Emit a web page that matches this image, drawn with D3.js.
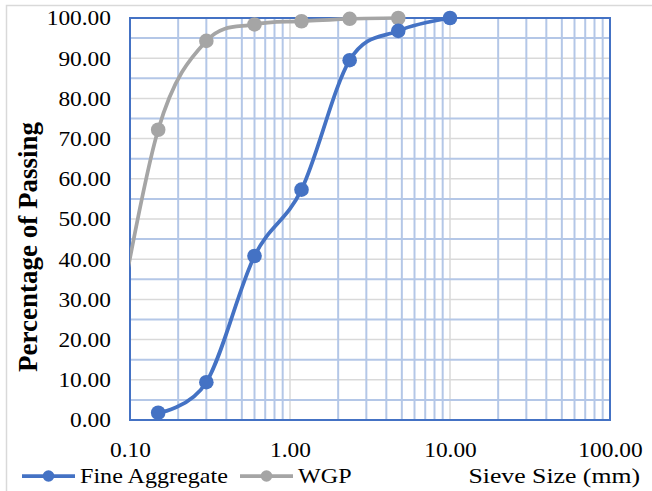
<!DOCTYPE html>
<html><head><meta charset="utf-8">
<script src="https://cdn.jsdelivr.net/npm/d3@7"></script>
<style>body{margin:0;background:#fff}svg{display:block}</style>
</head><body><svg id="c" width="652" height="491"></svg>
<script>
// ---- data ----
const sieveFA = [0.15, 0.3, 0.6, 1.18, 2.36, 4.75, 10];
const passFA  = [1.8, 9.4, 40.8, 57.3, 89.5, 96.8, 100];
const sieveWGP = [0.075, 0.15, 0.3, 0.6, 1.18, 2.36, 4.75];
const passWGP  = [13.5, 72.2, 94.3, 98.4, 99.2, 99.8, 100];
const seriesNames = ["Fine Aggregate", "WGP"];
const xTicks = [0.1, 1, 10, 100];
const yTicks = [0, 10, 20, 30, 40, 50, 60, 70, 80, 90, 100];
const xTitle = "Sieve Size (mm)";
const yTitle = "Percentage of Passing";

// ---- layout ----
const svg = d3.select("#c");
const L = 130, R = 610, T = 18, B = 420;
const SX = 1.17; // horizontal text stretch
const font = "'Liberation Serif','Times New Roman',serif";
const colFA = "#4472c4", colWGP = "#a5a5a5";

const x = d3.scaleLog().domain([0.1, 100]).range([L, R]);
const y = d3.scaleLinear().domain([0, 100]).range([B, T]);

svg.append("rect").attr("x", 6.5).attr("y", 5.5).attr("width", 700).attr("height", 500)
  .attr("fill", "#fff").attr("stroke", "#d9d9d9").attr("stroke-width", 1.5);

// gridlines
const minorX = [], majorX = [];
[0.1, 1, 10].forEach(d => { for (let k = 2; k <= 9; k++) minorX.push(d * k); });
[1, 10].forEach(d => majorX.push(d));
const minorY = d3.range(5, 100, 10);
const majorY = yTicks.filter(v => v > 0 && v < 100);

const g = svg.append("g");
g.selectAll(".gmy").data(majorY).join("line")
  .attr("x1", L).attr("x2", R).attr("y1", d => y(d)).attr("y2", d => y(d))
  .attr("stroke", "#d9d9d9").attr("stroke-width", 1.5);
g.selectAll(".gmx").data(majorX).join("line")
  .attr("y1", T).attr("y2", B).attr("x1", d => x(d)).attr("x2", d => x(d))
  .attr("stroke", "#d9d9d9").attr("stroke-width", 1.5);
g.selectAll(".gny").data(minorY).join("line")
  .attr("x1", L).attr("x2", R).attr("y1", d => y(d)).attr("y2", d => y(d))
  .attr("stroke", "#b4c7e7").attr("stroke-width", 2);
g.selectAll(".gnx").data(minorX).join("line")
  .attr("y1", T).attr("y2", B).attr("x1", d => x(d)).attr("x2", d => x(d))
  .attr("stroke", "#b4c7e7").attr("stroke-width", 2);

svg.append("rect").attr("x", L).attr("y", T).attr("width", R - L).attr("height", B - T)
  .attr("fill", "none").attr("stroke", colFA).attr("stroke-width", 2);

// axes (labels via d3 axes)
function stretchText(sel) {
  sel.each(function () {
    const t = d3.select(this);
    t.attr("transform", (t.attr("transform") || "") + ` scale(${SX},1)`);
  });
}
const yAxis = svg.append("g").attr("transform", `translate(${L - 19},0)`)
  .call(d3.axisLeft(y).tickValues(yTicks).tickFormat(d3.format(".2f")).tickSize(0).tickPadding(0));
yAxis.select(".domain").remove();
yAxis.selectAll("text").attr("font-family", font).attr("font-size", 20).attr("fill", "#000")
  .attr("dy", "0.34em").attr("x", 0).call(stretchText);

const xAxis = svg.append("g").attr("transform", `translate(0,${B})`)
  .call(d3.axisBottom(x).tickValues(xTicks).tickFormat(d3.format(".2f")).tickSize(0).tickPadding(0));
xAxis.select(".domain").remove();
xAxis.selectAll("text").attr("font-family", font).attr("font-size", 20).attr("fill", "#000")
  .attr("dy", 0).attr("y", 37).call(stretchText);

// titles
svg.append("text").attr("transform", `translate(37,247) rotate(-90)`)
  .attr("text-anchor", "middle").attr("font-family", font).attr("font-weight", "bold")
  .attr("font-size", 27).attr("fill", "#000").text(yTitle);
svg.append("text").attr("transform", `translate(640,483) scale(${SX},1)`)
  .attr("text-anchor", "end").attr("font-family", font).attr("font-size", 22)
  .attr("fill", "#000").text(xTitle);

// series
svg.append("clipPath").attr("id", "pc").append("rect")
  .attr("x", L).attr("y", T - 3).attr("width", R - L).attr("height", B - T + 6);
const line = d3.line().x(d => x(d[0])).y(d => y(d[1])).curve(d3.curveCatmullRom.alpha(0));
const series = [
  { name: seriesNames[0], pts: d3.zip(sieveFA, passFA), col: colFA },
  { name: seriesNames[1], pts: d3.zip(sieveWGP, passWGP), col: colWGP }
];
// draw WGP first then FA on top
[series[1], series[0]].forEach(s => {
  svg.append("path").attr("clip-path", "url(#pc)").attr("d", line(s.pts))
    .attr("fill", "none").attr("stroke", s.col).attr("stroke-width", 3.75);
  svg.append("g").selectAll("circle").data(s.pts.filter(p => p[0] >= 0.1 && p[0] <= 100)).join("circle")
    .attr("cx", d => x(d[0])).attr("cy", d => y(d[1])).attr("r", 7.3).attr("fill", s.col);
});

// legend
const legX = [22, 240];
series.forEach((s, i) => {
  const lg = svg.append("g").attr("transform", `translate(${legX[i]},476)`);
  lg.append("line").attr("x1", 0).attr("x2", 53).attr("y1", 0).attr("y2", 0)
    .attr("stroke", s.col).attr("stroke-width", 3.75);
  lg.append("circle").attr("cx", 26.5).attr("cy", 0).attr("r", 5.8).attr("fill", s.col);
  lg.append("text").attr("transform", `translate(58,6.5) scale(${SX},1)`)
    .attr("font-family", font).attr("font-size", 20.6).attr("fill", "#000").text(s.name);
});
</script></body></html>
